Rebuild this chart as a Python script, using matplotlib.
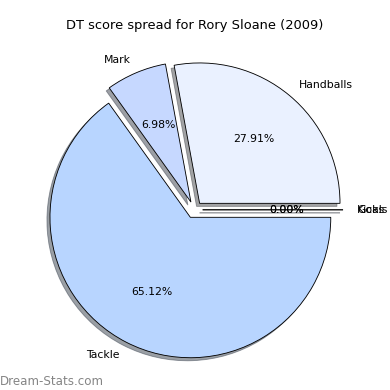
import matplotlib
matplotlib.use("Agg")
from matplotlib import pyplot as plt

# -----------DATA-----------------
labels = ["Goals", "Kicks", "Handballs", "Mark", "Tackle"]
scores = [0, 0, 12, 3, 28]  # DT points per category
colors = ["#d6e4ff", "#dce8ff", "#eaf1ff", "#c6d8ff", "#b8d5ff"]
explode = [0.06] * len(labels)

fig = plt.figure(figsize=(5, 5), dpi=78)
ax = fig.add_axes([0.048, 0.012, 0.9, 0.9])

wedges, texts, autotexts = ax.pie(
    scores,
    labels=labels,
    colors=colors,
    explode=explode,
    autopct="%1.2f%%",
    shadow=True,
    startangle=0,
    wedgeprops={"edgecolor": "black", "linewidth": 0.8},
)
ax.set_aspect("equal")

fig.suptitle("DT score spread for Rory Sloane (2009)", y=0.952, fontsize=12)

# watermark
fig.text(0.0, 0.014, "Dream-Stats.com", color="#858585", fontsize=11)

fig.savefig("out.png", dpi=78)
